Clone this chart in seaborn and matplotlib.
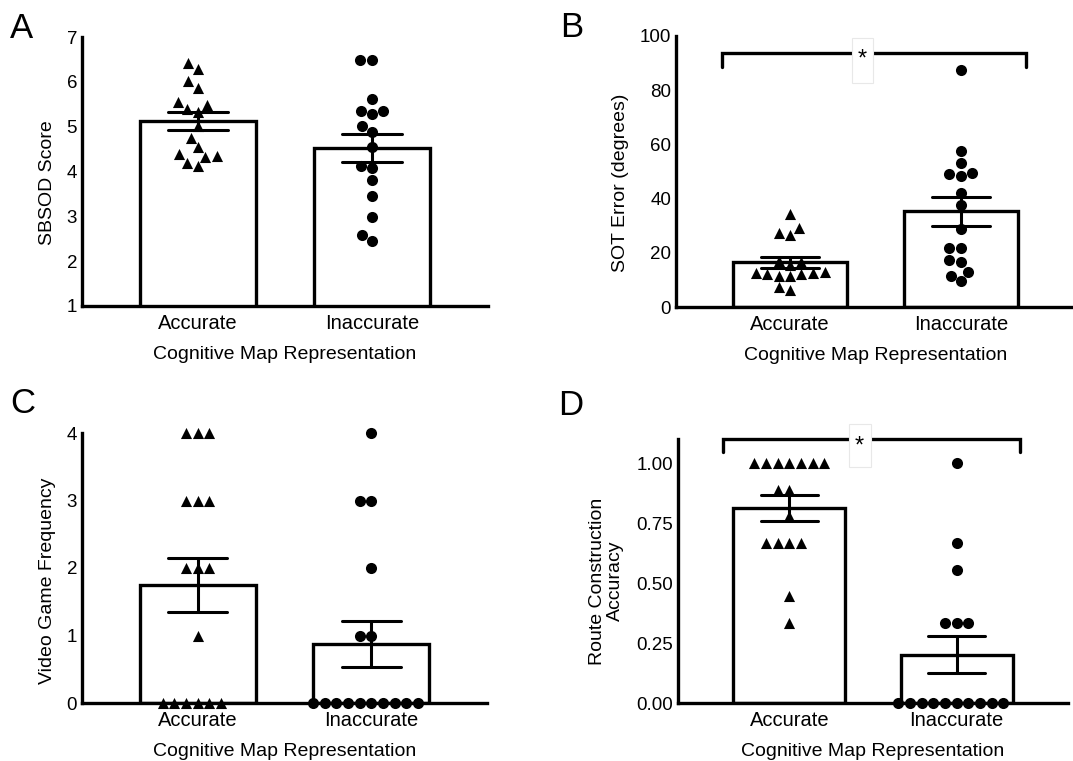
import matplotlib
matplotlib.use("Agg")
import numpy as np
import pandas as pd
import seaborn as sns
import matplotlib.pyplot as plt
from matplotlib.patches import Rectangle

# ---------------- data ----------------
categories = ["Accurate", "Inaccurate"]

sbsod_accurate = [6.41, 6.28, 6.01, 5.87, 5.55, 5.48, 5.40, 5.33, 5.01, 4.74,
                  4.55, 4.39, 4.34, 4.33, 4.20, 4.13]
sbsod_inaccurate = [6.48, 6.48, 5.61, 5.35, 5.35, 5.28, 5.01, 4.87, 4.55, 4.13,
                    4.07, 3.81, 3.46, 2.99, 2.58, 2.46]

sot_accurate = [34.5, 29.0, 27.3, 26.5, 17.0, 16.6, 15.4, 12.9, 12.6, 12.6,
                12.3, 12.3, 11.3, 11.3, 7.2, 6.2]
sot_inaccurate = [87.4, 57.6, 53.3, 49.5, 48.9, 48.3, 42.1, 37.6, 28.7, 21.6,
                  21.6, 17.2, 16.6, 12.9, 11.6, 9.5]

videogame_accurate = [4, 4, 4, 3, 3, 3, 2, 2, 2, 1, 0, 0, 0, 0, 0, 0]
videogame_inaccurate = [4, 3, 3, 2, 1, 1, 0, 0, 0, 0, 0, 0, 0, 0, 0, 0]

route_accurate = [1.0, 1.0, 1.0, 1.0, 1.0, 1.0, 1.0, 0.889, 0.889, 0.778,
                  0.667, 0.667, 0.667, 0.667, 0.444, 0.333]
route_inaccurate = [1.0, 0.667, 0.556, 0.333, 0.333, 0.333, 0, 0, 0, 0,
                    0, 0, 0, 0, 0, 0]

panel_letters = ["A", "B", "C", "D"]
y_labels = ["SBSOD Score", "SOT Error (degrees)", "Video Game Frequency",
            "Route Construction\nAccuracy"]
x_label = "Cognitive Map Representation"
significance_label = "*"

# ---------------- style ----------------
sns.set_style("ticks")
plt.rcParams["font.family"] = ["Liberation Sans", "DejaVu Sans"]
plt.rcParams.update({
    "text.color": "black",
    "axes.labelcolor": "black",
    "axes.edgecolor": "black",
    "xtick.color": "black",
    "ytick.color": "black",
})
LW = 2.4

fig = plt.figure(figsize=(10.73, 7.61), dpi=100)
W, H = 1073.0, 761.0


def frac_axes(left, bottom, right, top):
    return fig.add_axes([left / W, 1 - bottom / H, (right - left) / W, (bottom - top) / H])


def draw_panel(ax, acc, inacc, ylabel, ylim, yticks, fmt, labelpad=8, label_shift_px=11):
    df = pd.DataFrame({
        "group": [categories[0]] * len(acc) + [categories[1]] * len(inacc),
        "value": list(acc) + list(inacc),
    })
    sns.barplot(data=df, x="group", y="value", order=categories, errorbar="se",
                capsize=0.34, width=0.67, color="white", saturation=1,
                edgecolor="black", linewidth=LW,
                err_kws={"color": "black", "linewidth": 2.2}, ax=ax, zorder=2)
    sns.swarmplot(data=df[df.group == categories[0]], x="group", y="value",
                  order=categories, marker="^", color="black", size=8,
                  linewidth=0, ax=ax, zorder=6)
    sns.swarmplot(data=df[df.group == categories[1]], x="group", y="value",
                  order=categories, marker="o", color="black", size=8,
                  linewidth=0, ax=ax, zorder=6)
    for coll in ax.collections:
        coll.set_clip_on(False)
    ax.set_xlim(-2 / 3, 5 / 3)
    ax.set_ylim(*ylim)
    ax.set_yticks(yticks)
    ax.set_yticklabels([fmt.format(t) for t in yticks])
    ax.tick_params(axis="y", length=0, pad=3.5, labelsize=13.5, colors="black")
    ax.tick_params(axis="x", length=0, pad=6, labelsize=14.5, colors="black")
    ax.set_ylabel(ylabel, fontsize=14, labelpad=labelpad, linespacing=1.1, color="black")
    ax.set_xlabel(x_label, fontsize=14, labelpad=9, color="black")
    h_px = ax.get_position().height * H
    ax.yaxis.label.set_y(0.5 - label_shift_px / h_px)
    for s in ["top", "right"]:
        ax.spines[s].set_visible(False)
    for s in ["left", "bottom"]:
        ax.spines[s].set_linewidth(LW)
        ax.spines[s].set_color("black")
        ax.spines[s].set_zorder(5)
    ax.patch.set_alpha(0)


def bracket(ax, x0, x1, y, drop, star_x, box):
    ax.plot([x0, x0, x1, x1], [y - drop, y, y, y - drop], color="black",
            lw=LW, clip_on=False, zorder=6, solid_joinstyle="miter")
    bx0, bx1, by0, by1 = box
    ax.add_patch(Rectangle((bx0, by0), bx1 - bx0, by1 - by0, facecolor="white",
                           edgecolor="#e8e8e8", lw=0.8, clip_on=False, zorder=7))
    ax.annotate(significance_label, xy=(star_x, y), xytext=(0, -9.5),
                textcoords="offset points", ha="center", va="baseline",
                fontsize=17, zorder=8, annotation_clip=False, color="black")


axA = frac_axes(82, 306, 488, 37)
draw_panel(axA, sbsod_accurate, sbsod_inaccurate, y_labels[0], (1, 7),
           [1, 2, 3, 4, 5, 6, 7], "{:g}")

axB = frac_axes(676, 307, 1075, 36)
draw_panel(axB, sot_accurate, sot_inaccurate, y_labels[1], (0, 100),
           [0, 20, 40, 60, 80, 100], "{:g}")
bracket(axB, -0.40, 1.38, 93.8, 5.1, 0.42, (0.36, 0.485, 82.6, 99.3))

axC = frac_axes(82, 703, 487, 433)
draw_panel(axC, videogame_accurate, videogame_inaccurate, y_labels[2], (0, 4),
           [0, 1, 2, 3, 4], "{:g}", label_shift_px=13)

axD = frac_axes(678, 703, 1068, 439)
draw_panel(axD, route_accurate, route_inaccurate, y_labels[3], (0, 1.1),
           [0, 0.25, 0.5, 0.75, 1.0], "{:.2f}", labelpad=9, label_shift_px=10)
bracket(axD, -0.40, 1.38, 1.10, 0.054, 0.42, (0.356, 0.488, 0.983, 1.162))

for letter, (px, py) in zip(panel_letters, [(10, 38), (560, 37), (10, 413), (558, 415)]):
    fig.text(px / W, 1 - py / H, letter, fontsize=25, va="baseline", ha="left",
             color="black")

fig.savefig("out.png", dpi=100)
